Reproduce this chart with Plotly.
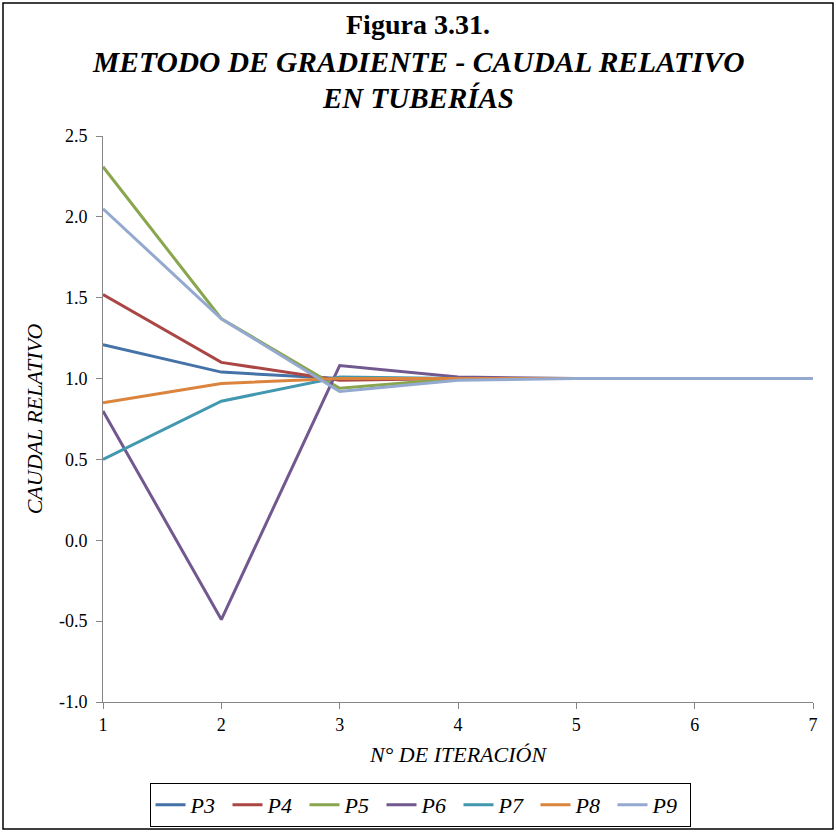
import plotly.graph_objects as go

iterations = [1, 2, 3, 4, 5, 6, 7]
series_names = ["P3", "P4", "P5", "P6", "P7", "P8", "P9"]
p3 = [1.21, 1.04, 1.00, 1.00, 1.00, 1.00, 1.00]
p4 = [1.52, 1.10, 0.99, 1.00, 1.00, 1.00, 1.00]
p5 = [2.31, 1.37, 0.94, 1.00, 1.00, 1.00, 1.00]
p6 = [0.80, -0.49, 1.08, 1.01, 1.00, 1.00, 1.00]
p7 = [0.50, 0.86, 1.01, 1.00, 1.00, 1.00, 1.00]
p8 = [0.85, 0.97, 1.00, 1.00, 1.00, 1.00, 1.00]
p9 = [2.05, 1.37, 0.92, 0.99, 1.00, 1.00, 1.00]
colors = ["#4572A7", "#AA4643", "#89A54E", "#71588F", "#4198AF", "#DB843D", "#93A9CF"]
y_ticks = [-1.0, -0.5, 0.0, 0.5, 1.0, 1.5, 2.0, 2.5]
y_ticklabels = ["-1.0", "-0.5", "0.0", "0.5", "1.0", "1.5", "2.0", "2.5"]
x_ticks = [1, 2, 3, 4, 5, 6, 7]
title_lines = ["<b>Figura 3.31.</b>",
               "<b><i>METODO DE GRADIENTE - CAUDAL RELATIVO</i></b>",
               "<b><i>EN TUBERÍAS</i></b>"]
title_sizes = [28, 29.5, 29]

W, H = 836, 832
ml, mr, mt, mb = 103, 23, 136, 130
pw, ph = W - ml - mr, H - mt - mb

font = "Liberation Serif"
fig = go.Figure()
for name, vals, c in zip(series_names, [p3, p4, p5, p6, p7, p8, p9], colors):
    fig.add_trace(go.Scatter(x=iterations, y=vals, mode="lines", name=name,
                             line=dict(color=c, width=3)))

def px_x(p):
    return (p - ml) / pw

def px_y(p):
    return (H - mb - p) / ph

fig.add_shape(type="rect", xref="paper", yref="paper",
              x0=px_x(3), x1=px_x(833), y0=px_y(829), y1=px_y(3),
              line=dict(color="black", width=1.5))

for txt, yc, fs in zip(title_lines, [25, 62, 98], title_sizes):
    fig.add_annotation(text=txt, xref="paper", yref="paper",
                       x=px_x(418), y=px_y(yc), xanchor="center", yanchor="middle",
                       showarrow=False, font=dict(size=fs, family=font, color="black"))

fig.update_layout(
    width=W, height=H,
    margin=dict(l=ml, r=mr, t=mt, b=mb, autoexpand=False),
    paper_bgcolor="white", plot_bgcolor="white",
    font=dict(family=font, color="black", size=17),
    showlegend=True,
    legend=dict(orientation="h", x=420 / W, xref="container", xanchor="center",
                y=1 - 783 / H, yref="container", yanchor="top",
                bordercolor="black", borderwidth=1,
                entrywidth=32, entrywidthmode="pixels",
                font=dict(size=22, family=font, style="italic")),
    xaxis=dict(range=[1, 7], tickvals=x_ticks, showgrid=False, zeroline=False,
               showline=True, linecolor="#868686", linewidth=1,
               ticks="outside", tickcolor="#868686", ticklen=6,
               tickfont=dict(size=18), automargin=False, ticklabelstandoff=0,
               title=dict(text="N° DE ITERACIÓN", font=dict(size=22, style="italic"), standoff=13)),
    yaxis=dict(range=[-1.0, 2.5], tickvals=y_ticks, ticktext=y_ticklabels,
               showgrid=False, zeroline=False,
               showline=True, linecolor="#868686", linewidth=1,
               ticks="outside", tickcolor="#868686", ticklen=6,
               tickfont=dict(size=18), automargin=False, ticklabelstandoff=5,
               title=dict(text="CAUDAL RELATIVO", font=dict(size=22, style="italic"), standoff=10)),
)

fig.write_html("out.html", config={"displayModeBar": False},
               post_script="document.body.style.margin='0';document.body.style.overflow='hidden';")
